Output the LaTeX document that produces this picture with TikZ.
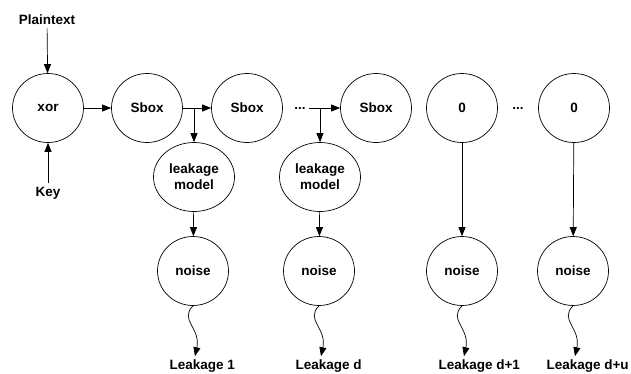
\documentclass[tikz,border=0pt]{standalone}
\usepackage{fontspec}
\setmainfont{Liberation Sans}
\usetikzlibrary{shapes.geometric, arrows.meta}

\tikzset{
    blob/.style={ellipse, draw, line width=0.7pt, inner sep=0pt, minimum width=71pt, minimum height=69pt},
    wide blob/.style={blob, minimum width=81pt},
    lbl/.style={inner sep=3.3pt},
    arr/.style={line width=0.7pt, -{Triangle[length=9pt, width=7pt]}},
}

\begin{document}
\begin{tikzpicture}[x=1pt, y=-1pt, font=\fontsize{13.5}{16}\selectfont\bfseries]
    \useasboundingbox (0,0) rectangle (631,373);

    % top row
    \node[lbl] (pt) at (47,20) {Plaintext};
    \node[blob] (xor) at (48,108) {xor};
    \node[lbl] (key) at (48,193) {Key};
    \node[blob] (sbox1) at (147,108) {Sbox};
    \node[blob] (sbox2) at (247,108) {Sbox};
    \node[lbl] (dots1) at (300,108) {...};
    \node[blob] (sbox3) at (376,108) {Sbox};
    \node[blob] (zero1) at (462,108) {0};
    \node[lbl] (dots2) at (518,108) {...};
    \node[blob] (zero2) at (574,108) {0};

    % leakage models
    \node[wide blob, align=center] (lm1) at (194,177) {leakage\\model};
    \node[wide blob, align=center] (lm2) at (320,177) {leakage\\model};

    % noise
    \node[blob] (noise1) at (193,271) {noise};
    \node[blob] (noise2) at (319,271) {noise};
    \node[blob] (noise3) at (462,271) {noise};
    \node[blob] (noise4) at (573,271) {noise};

    % outputs
    \node[lbl, anchor=base west] (leak1) at (166,369.5) {Leakage 1};
    \node[lbl, anchor=base west] (leak2) at (292,369.5) {Leakage d};
    \node[lbl, anchor=base west] (leak3) at (435,369.5) {Leakage d+1};
    \node[lbl, anchor=base west] (leak4) at (543,369.5) {Leakage d+u};

    \coordinate (j1) at (lm1.north |- sbox1.east);
    \coordinate (j2) at (lm2.north |- sbox3.west);

    \draw[arr] (pt) -- (xor);
    \draw[arr] (key) -- (xor);
    \draw[arr] (xor) -- (sbox1);
    \draw[arr] (sbox1) -- (sbox2);
    \draw[arr] (dots1) -- (sbox3);
    \draw[arr] (j1) -- (lm1);
    \draw[arr] (j2) -- (lm2);
    \draw[arr] (lm1) -- (noise1);
    \draw[arr] (lm2) -- (noise2);
    \draw[arr] (zero1) -- (noise3);
    \draw[arr] (zero2) -- (noise4);

    \foreach \i in {1,...,4}
        \draw[arr] (noise\i.south) .. controls +(-14,14) and +(6,-28) .. ([xshift=2pt]noise\i.south |- leak\i.north);
\end{tikzpicture}
\end{document}
